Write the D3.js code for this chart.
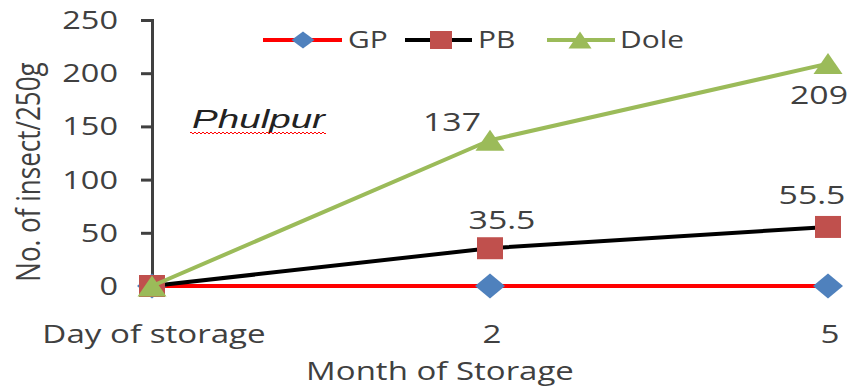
<!DOCTYPE html>
<html>
<head>
<meta charset="utf-8">
<script src="https://cdn.jsdelivr.net/npm/d3@7"></script>
<style>
  html, body { margin: 0; padding: 0; background: #fff; }
  svg { display: block; }
</style>
</head>
<body>
<svg id="chart" width="852" height="388"></svg>
<script>
// Insect counts per 250 g sample during storage (Phulpur)
const categories = ["Day of storage", "2", "5"];
const gpValues = [0, 0, 0];
const pbValues = [0, 35.5, 55.5];
const doleValues = [0, 137, 209];
const yTickValues = [0, 50, 100, 150, 200, 250];
const seriesNames = ["GP", "PB", "Dole"];
const yTitle = "No. of insect/250g";
const xTitle = "Month of Storage";
const siteName = "Phulpur";

const svg = d3.select("#chart");
const FONT = "'Open Sans', 'Liberation Sans', sans-serif";
const TEXT = "#404040";
const SX = 1.3; // glyphs are drawn horizontally widened

const x = d3.scalePoint().domain(categories).range([152, 828]).padding(0);
const y = d3.scaleLinear().domain([0, 250]).range([286, 20]);

// widened text helper: anchor point at (tx, ty)
function wideText(parent, str, tx, ty, size, anchor, sx, color) {
  return parent.append("text")
    .attr("transform", `translate(${tx},${ty}) scale(${sx},1)`)
    .attr("text-anchor", anchor)
    .attr("font-family", FONT)
    .attr("font-size", size)
    .attr("fill", color || TEXT)
    .text(str);
}

// ---- y axis ----
const yAxis = d3.axisLeft(y).tickValues(yTickValues).tickSize(11).tickFormat("");
const gy = svg.append("g").attr("transform", `translate(${x(categories[0])},0)`).call(yAxis);
gy.select(".domain").attr("stroke", "#404040").attr("stroke-width", 3);
gy.selectAll(".tick line").attr("stroke", "#404040").attr("stroke-width", 3);
yTickValues.forEach(v => wideText(svg, String(v), 118, y(v) + 9, 25, "end", SX));

// ---- x axis ----
const xAxis = d3.axisBottom(x).tickSize(0).tickFormat("");
const gx = svg.append("g").attr("transform", `translate(0,${y(0)})`).call(xAxis);
gx.select(".domain").attr("stroke", "#404040").attr("stroke-width", 2);
categories.forEach(c => wideText(svg, c, x(c) + 2, 343, 26, "middle", SX * 0.98));

// axis titles
wideText(svg, xTitle, 440, 380, 25, "middle", 1.32);
svg.append("text")
  .attr("transform", `translate(40,172) rotate(-90) scale(1.04,${SX})`)
  .attr("text-anchor", "middle")
  .attr("font-family", FONT)
  .attr("font-size", 25)
  .attr("fill", TEXT)
  .text(yTitle);

// ---- markers ----
function marker(g, kind, cx, cy, w, h, fill) {
  let pts;
  if (kind === "diamond") pts = [[cx, cy - h / 2], [cx + w / 2, cy], [cx, cy + h / 2], [cx - w / 2, cy]];
  else if (kind === "square") pts = [[cx - w / 2, cy - h / 2], [cx + w / 2, cy - h / 2], [cx + w / 2, cy + h / 2], [cx - w / 2, cy + h / 2]];
  else pts = [[cx, cy - h / 2], [cx + w / 2, cy + h / 2], [cx - w / 2, cy + h / 2]];
  g.append("polygon").attr("points", pts.map(p => p.join(",")).join(" ")).attr("fill", fill);
}

const series = [
  { name: seriesNames[0], values: gpValues, line: "#FF0000", fill: "#4F81BD", kind: "diamond", w: 30, h: 25 },
  { name: seriesNames[1], values: pbValues, line: "#000000", fill: "#C0504D", kind: "square", w: 26, h: 22 },
  { name: seriesNames[2], values: doleValues, line: "#9BBB59", fill: "#9BBB59", kind: "triangle", w: 29, h: 21 }
];

const lineGen = d3.line().x(d => x(d.c)).y(d => y(d.v));

series.forEach(s => {
  const pts = categories.map((c, i) => ({ c, v: s.values[i] }));
  const g = svg.append("g");
  g.append("path").attr("d", lineGen(pts))
    .attr("fill", "none").attr("stroke", s.line).attr("stroke-width", 4)
    .attr("stroke-linejoin", "round");
  pts.forEach(p => marker(g, s.kind, x(p.c), y(p.v), s.w, s.h, s.fill));
});

// ---- data labels ----
const labelOffset = {
  "PB|2": [12, -19], "PB|5": [-16, -23],
  "Dole|2": [-38, -9], "Dole|5": [-9, 40]
};
series.forEach(s => {
  categories.forEach((c, i) => {
    const key = s.name + "|" + c;
    if (!labelOffset[key]) return;
    const [dx, dy] = labelOffset[key];
    wideText(svg, String(s.values[i]), x(c) + dx, y(s.values[i]) + dy, 26, "middle", SX);
  });
});

// ---- site name with spelling squiggle ----
const site = svg.append("text")
  .attr("font-family", "'Liberation Sans', Arial, sans-serif")
  .attr("font-style", "italic")
  .attr("font-size", 25)
  .attr("fill", "#222")
  .text(siteName);
const siteW = site.node().getComputedTextLength();
site.attr("transform", `translate(192,128) scale(${133 / siteW},1)`);
let sq = "M190,133";
for (let xx = 190; xx < 324; xx += 4) sq += ` q1,-2 2,0 t2,0`;
svg.append("path").attr("d", sq).attr("fill", "none").attr("stroke", "#FF0000").attr("stroke-width", 1);

// ---- legend ----
const legend = [
  { s: series[0], x0: 263, x1: 342, mx: 303, tx: 348 },
  { s: series[1], x0: 405, x1: 472, mx: 441, tx: 478 },
  { s: series[2], x0: 547, x1: 615, mx: 580, tx: 620 }
];
const lg = svg.append("g");
legend.forEach(l => {
  lg.append("line").attr("x1", l.x0).attr("x2", l.x1).attr("y1", 40).attr("y2", 40)
    .attr("stroke", l.s.line).attr("stroke-width", 4);
  marker(lg, l.s.kind, l.mx, 40, l.s.kind === "square" ? 22 : 23, l.s.kind === "square" ? 18 : 17, l.s.fill);
  wideText(lg, l.s.name, l.tx, 48, 23, "start", SX);
});
</script>
</body>
</html>
